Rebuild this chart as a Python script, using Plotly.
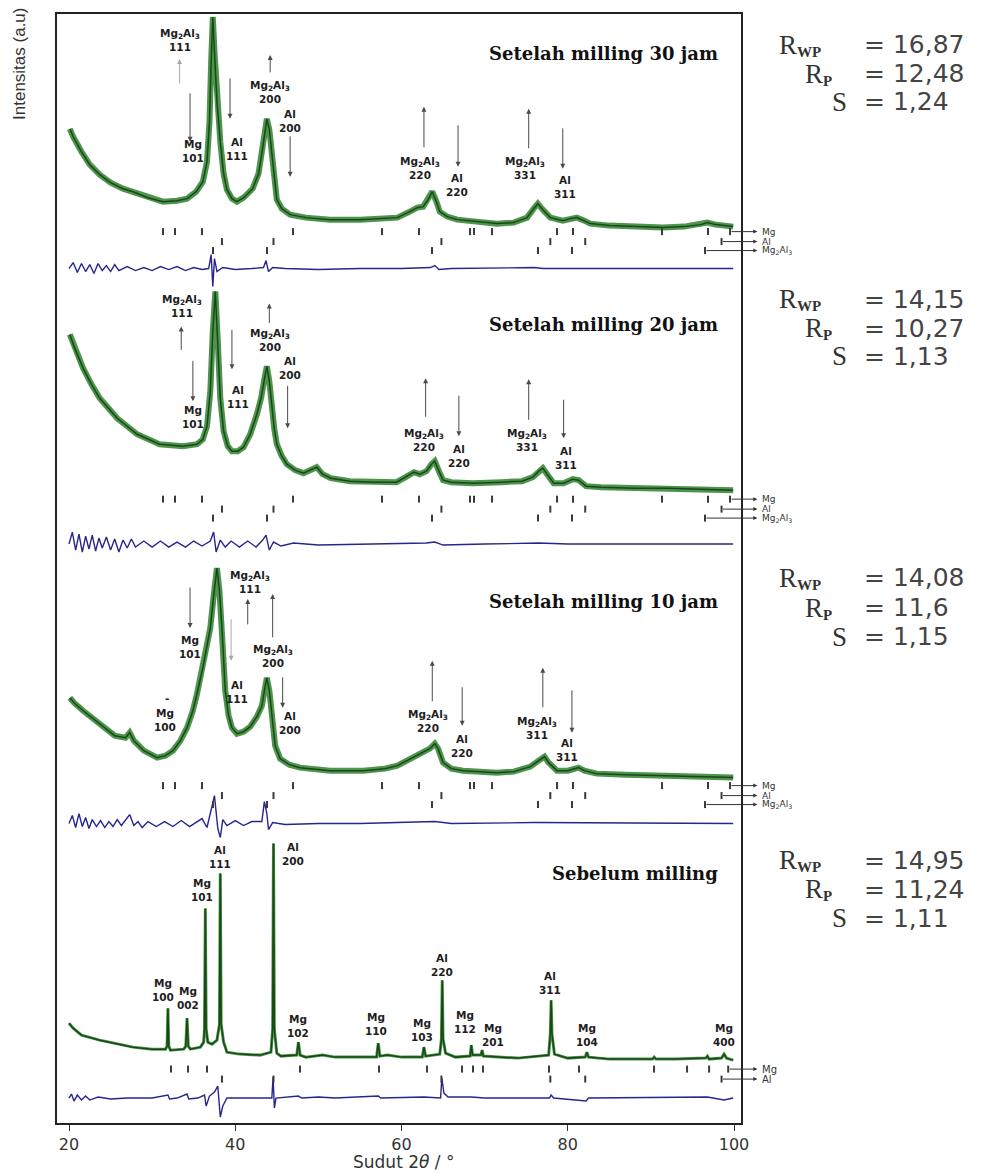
import plotly.graph_objects as go

# ---------------- observed / fitted patterns (2-theta in degrees, intensity in a.u.) ----------------
TTH_30 = [20.1, 20.5, 21.5, 22.5, 23.7, 25.0, 26.5, 27.7, 29.5, 31.3, 33.0, 34.2, 35.3, 36.1, 36.6,
          36.9, 37.1, 37.3, 37.5, 37.8, 38.2, 38.6, 39.0, 39.6, 40.2, 41.0, 42.1, 42.8, 43.2, 43.6,
          43.8, 44.1, 44.4, 44.7, 45.0, 45.6, 46.6, 48.5, 51.4, 55.0, 58.0, 59.5, 61.0, 61.9, 62.6,
          63.2, 63.7, 64.2, 64.6, 65.5, 66.7, 69.0, 71.5, 73.5, 75.1, 75.9, 76.4, 77.0, 77.9, 79.4,
          80.3, 81.1, 82.0, 82.7, 85.0, 87.5, 91.5, 94.0, 96.0, 96.8, 97.8, 99.9]
INT_30 = [103, 95, 80, 67, 57, 49, 43, 40, 34, 30, 31, 33, 40, 50, 70,
          110, 170, 215, 180, 130, 90, 58, 42, 33, 30, 34, 43, 58, 78, 105,
          113, 102, 80, 52, 32, 23, 17, 14, 12, 12, 13, 14, 20, 24, 25,
          32, 40, 30, 20, 15, 12, 10, 8, 9, 14, 23, 28, 22, 14, 11,
          13, 14, 11, 8, 6, 5, 4, 5, 7, 9, 7, 5]

TTH_20 = [20.1, 20.6, 21.7, 22.7, 23.7, 25.8, 28.2, 30.9, 33.7, 35.4, 36.1, 36.6, 37.0, 37.3, 37.6,
          37.9, 38.2, 38.6, 39.1, 39.6, 40.3, 41.0, 41.8, 42.6, 43.1, 43.5, 43.8, 44.1, 44.4, 44.7,
          45.0, 45.6, 46.2, 47.2, 48.2, 49.2, 49.8, 50.5, 51.5, 53.8, 56.5, 59.4, 60.5, 61.5, 62.2,
          63.0, 63.6, 64.0, 64.5, 65.0, 66.0, 68.5, 72.0, 74.5, 75.8, 76.5, 77.0, 77.6, 78.3, 79.5,
          80.6, 81.3, 82.2, 84.0, 88.0, 92.0, 96.0, 99.9]
INT_20 = [165, 153, 131, 115, 101, 81, 65, 55, 53, 55, 60, 73, 108, 168, 208,
          158, 101, 68, 53, 48, 48, 52, 65, 85, 101, 120, 133, 118, 91, 70,
          55, 43, 35, 29, 26, 30, 32, 25, 21, 18, 17, 17, 22, 27, 25,
          28, 35, 38, 28, 19, 17, 16, 17, 18, 22, 28, 31, 24, 16, 16,
          20, 19, 13, 12, 11, 11, 10, 9]

TTH_10 = [20.1, 20.6, 21.7, 23.7, 25.5, 26.8, 27.3, 27.8, 29.0, 30.6, 31.6, 32.5, 33.4, 34.2, 34.9,
          35.4, 36.1, 36.6, 37.0, 37.4, 37.8, 38.1, 38.4, 38.8, 39.2, 39.6, 40.2, 41.0, 41.8, 42.6,
          43.2, 43.6, 43.8, 44.1, 44.4, 44.8, 45.4, 46.5, 47.8, 51.4, 55.4, 58.0, 59.5, 61.4, 62.5,
          63.4, 64.0, 64.4, 65.0, 66.0, 67.4, 71.5, 73.5, 75.5, 76.5, 77.2, 77.7, 78.7, 80.0, 81.3,
          82.0, 83.5, 87.0, 91.5, 96.0, 99.9]
INT_10 = [88, 83, 75, 62, 50, 48, 53, 45, 35, 28, 30, 35, 45, 58, 75,
          92, 118, 140, 158, 190, 218, 195, 158, 95, 70, 58, 52, 54, 59, 69,
          80, 100, 108, 95, 73, 40, 27, 21, 18, 15, 15, 17, 20, 28, 33,
          37, 42, 37, 23, 17, 15, 13, 14, 19, 25, 29, 23, 15, 15, 18,
          15, 12, 11, 10, 9, 8]

TTH_0 = [20.0, 20.5, 21.5, 23.7, 27.7, 30.0, 31.6, 31.8, 31.9, 32.0, 32.2, 33.8, 34.05, 34.2, 34.35,
         34.6, 35.8, 36.2, 36.3, 36.4, 36.5, 36.7, 37.2, 37.8, 38.1, 38.2, 38.3, 38.6, 39.0, 40.5,
         43.0, 44.3, 44.5, 44.6, 44.7, 45.0, 45.5, 47.4, 47.6, 47.8, 48.5, 50.5, 52.0, 57.0, 57.2,
         57.4, 58.3, 60.0, 62.5, 62.7, 62.9, 64.6, 64.8, 64.9, 65.0, 65.3, 66.5, 68.25, 68.4, 68.55,
         69.55, 69.7, 69.85, 72.0, 74.0, 77.7, 77.9, 78.0, 78.1, 78.4, 80.0, 82.1, 82.3, 82.5, 85.0,
         90.2, 90.4, 90.6, 93.0, 96.6, 96.8, 97.0, 98.5, 98.8, 99.1, 99.9]
INT_0 = [46, 41, 34, 29, 22, 20, 20, 23, 61, 23, 19, 20, 23, 51, 23,
         20, 22, 27, 40, 161, 40, 27, 25, 29, 45, 196, 45, 27, 17, 15,
         14, 17, 40, 226, 40, 16, 13, 14, 27, 14, 12, 14, 12, 12, 26,
         13, 14, 12, 12, 22, 13, 15, 30, 89, 30, 16, 12, 13, 24, 14,
         14, 19, 13, 12, 11, 14, 35, 69, 35, 15, 11, 12, 17, 12, 10,
         10, 12, 10, 10, 11, 13, 10, 11, 15, 11, 9]

# ---------------- difference curves (observed - calculated) ----------------
DTH_30 = [20.0, 20.5, 21.0, 21.5, 22.0, 22.5, 23.0, 23.5, 24.0, 24.5, 25.0, 25.5, 26.0, 27.0, 28.0,
          29.0, 30.0, 31.0, 32.0, 33.0, 34.0, 35.0, 36.0, 36.8, 37.1, 37.3, 37.5, 37.8, 38.5, 40.0,
          42.0, 43.4, 43.7, 44.0, 44.5, 46.0, 50.0, 55.0, 60.0, 63.5, 64.0, 64.5, 66.0, 76.0, 77.0,
          85.0, 99.9]
D_30 = [0, 6, -4, 5, -3, 4, -5, 5, -2, 3, -3, 4, -2, 2, -2,
        1, -2, 2, -1, 2, -2, 1, -1, 0, 14, -18, 10, -3, 1, -1,
        0, 1, 8, -3, 1, 0, -1, 0, 0, 1, 3, -1, 0, 1, 0,
        0, 0]

DTH_20 = [20.0, 20.4, 20.8, 21.2, 21.6, 22.0, 22.4, 22.8, 23.2, 23.6, 24.0, 24.5, 25.0, 25.5, 26.0,
          26.5, 27.0, 27.5, 28.0, 29.0, 30.0, 31.0, 32.0, 33.0, 34.0, 35.0, 36.0, 37.0, 37.4, 37.7,
          38.2, 38.8, 39.5, 40.5, 41.5, 42.5, 43.3, 43.7, 44.1, 44.6, 45.5, 47.0, 50.0, 55.0, 63.0,
          64.0, 65.0, 70.0, 76.5, 80.0, 99.9]
D_20 = [0, 12, -6, 10, -8, 8, -5, 9, -7, 6, -4, 7, -6, 5, -8,
        4, -4, 5, -3, 3, -3, 3, -3, 2, -3, 3, -2, 3, 12, -8,
        4, -3, 3, -3, 3, -3, 4, 9, -6, 2, -2, 1, -1, 0, 1,
        2, -1, 0, 1, 0, 0]

DTH_10 = [20.0, 20.4, 20.8, 21.2, 21.6, 22.0, 22.4, 22.8, 23.3, 23.8, 24.3, 24.8, 25.3, 25.8, 26.3,
          26.8, 27.3, 27.8, 28.3, 28.8, 29.5, 30.5, 31.5, 32.5, 33.5, 34.5, 35.5, 36.0, 36.6, 37.0,
          37.5, 37.9, 38.2, 38.5, 39.0, 40.0, 41.0, 42.0, 43.2, 43.5, 43.8, 44.0, 44.5, 46.0, 50.0,
          55.0, 62.0, 64.0, 66.0, 76.0, 99.9]
D_10 = [0, 8, -4, 10, -3, 6, -5, 4, -3, 3, -4, 2, -3, 4, -2,
        3, 9, -2, 2, -4, 2, -3, 2, -3, 3, -3, 2, 5, -4, 10,
        28, -5, -14, 4, -2, 3, -2, 2, 2, 22, 10, -6, 1, -1, 0,
        0, 1, 2, 0, 1, 0]

DTH_0 = [20.0, 20.3, 20.6, 21.0, 21.5, 22.0, 22.5, 23.5, 25.0, 27.0, 30.0, 31.9, 32.1, 33.0, 34.2,
         34.4, 35.5, 36.3, 36.5, 36.9, 37.5, 37.9, 38.2, 38.5, 39.0, 42.0, 44.4, 44.55, 44.7, 44.9,
         47.6, 48.0, 50.0, 52.0, 57.2, 57.5, 62.7, 64.7, 64.85, 65.1, 65.6, 68.4, 70.0, 77.8, 78.0,
         78.3, 82.2, 82.5, 96.8, 98.8, 99.9]
D_0 = [0, 4, -3, 3, -2, 2, -2, 1, -1, 0, 0, 3, -1, 0, 4,
       -1, 0, 3, -8, 2, 6, 12, -19, -8, 0, 0, 0, 21, -10, 0,
       2, 0, 1, 0, 2, 0, 1, 0, 20, 5, 1, 1, 0, 0, 3,
       0, -3, 0, 1, -2, 0]

# ---------------- Bragg reflection positions (2-theta) ----------------
MG_TICKS_MILLED = [31.31, 32.75, 36.0, 46.95, 57.65, 62.1, 68.24, 68.72, 70.89, 78.71, 80.63, 91.34, 96.87, 99.52]
MG_TICKS_BEFORE = [32.27, 34.32, 36.6, 47.79, 57.29, 63.07, 67.28, 68.6, 69.8, 77.74, 81.35, 90.38, 94.35, 97.0, 99.3]
AL_TICKS = [38.4, 44.6, 64.8, 77.9, 82.1, 98.5]
MG2AL3_TICKS = [37.32, 43.82, 63.67, 76.42, 80.51, 96.51]

# ---------------- refinement figures of merit ----------------
TITLES = ["Setelah milling 30 jam", "Setelah milling 20 jam", "Setelah milling 10 jam", "Sebelum milling"]
R_WP = ["16,87", "14,15", "14,08", "14,95"]
R_P = ["12,48", "10,27", "11,6", "11,24"]
S_VAL = ["1,24", "1,13", "1,15", "1,11"]

M2A3 = "Mg<sub>2</sub>Al<sub>3</sub>"

# peak labels per pattern: (2-theta, height above pattern zero, text)
PEAK_LABELS = [
    [(33.35, 192, M2A3 + "<br>111"), (34.9, 81, "Mg<br>101"), (40.2, 83, "Al<br>111"),
     (44.2, 140, M2A3 + "<br>200"), (46.6, 111, "Al<br>200"), (62.2, 64, M2A3 + "<br>220"),
     (66.7, 47, "Al<br>220"), (74.9, 64, M2A3 + "<br>331"), (79.7, 45, "Al<br>311")],
    [(33.6, 193, M2A3 + "<br>111"), (34.9, 82, "Mg<br>101"), (40.3, 102, "Al<br>111"),
     (44.2, 159, M2A3 + "<br>200"), (46.6, 131, "Al<br>200"), (62.7, 59, M2A3 + "<br>220"),
     (66.9, 43, "Al<br>220"), (75.1, 59, M2A3 + "<br>331"), (79.8, 41, "Al<br>311")],
    [(34.56, 139, "Mg<br>101"), (41.8, 204, M2A3 + "<br>111"), (44.5, 130, M2A3 + "<br>200"),
     (40.2, 94, "Al<br>111"), (46.6, 63, "Al<br>200"), (31.55, 66, "Mg<br>100"), (31.8, 88, "-"),
     (63.2, 65, M2A3 + "<br>220"), (67.3, 40, "Al<br>220"), (76.3, 58, M2A3 + "<br>311"),
     (79.9, 36, "Al<br>311")],
    [(31.3, 79, "Mg<br>100"), (34.3, 71, "Mg<br>002"), (36.0, 179, "Mg<br>101"), (38.2, 212, "Al<br>111"),
     (46.95, 215, "Al<br>200"), (47.55, 43, "Mg<br>102"), (56.9, 45, "Mg<br>110"), (62.5, 39, "Mg<br>103"),
     (64.9, 104, "Al<br>220"), (67.6, 47, "Mg<br>112"), (71.0, 34, "Mg<br>201"), (77.9, 86, "Al<br>311"),
     (82.3, 34, "Mg<br>104"), (98.8, 34, "Mg<br>400")],
]

# peak arrows per pattern: (2-theta, tail height, head height, faint)
PEAK_ARROWS = [
    [(33.3, 147, 173, True), (34.56, 140, 90, False), (39.37, 155, 113, False), (44.2, 158, 177, False),
     (46.6, 97, 55, False), (62.7, 83, 125, False), (66.8, 108, 65, False), (75.3, 82, 123, False),
     (79.4, 105, 63, False)],
    [(33.5, 148, 173, False), (34.9, 140, 98, False), (39.6, 171, 130, False), (44.1, 175, 196, False),
     (46.3, 115, 71, False), (62.9, 81, 121, False), (66.9, 105, 63, False), (75.3, 78, 120, False),
     (79.5, 101, 61, False)],
    [(34.56, 200, 158, False), (41.5, 160, 187, False), (44.5, 147, 192, False), (39.5, 168, 125, True),
     (45.7, 110, 78, False), (63.7, 83, 125, False), (67.3, 100, 60, False), (77.0, 77, 118, False),
     (80.5, 97, 53, False)],
    [],
]

# ---------------- stacking / layout constants ----------------
OFFSETS = [893, 625, 338, 54]          # vertical shift of each pattern
DIFF_LEVEL = [-37, -45, -38, -29]      # level of each difference curve below its pattern
ROW_LEVEL = {"Mg": 0, "Al": -10, "Mg2Al3": -19}
TITLE_LEVEL = [178, 175, 184, 196]
R_LEVELS = [(187, 158, 130), (200, 171, 143), (208, 178, 149), (209, 180, 151)]
PHASE_NAME_X = (760 - 57) / 684        # paper position of the phase names right of the frame

patterns = [(TTH_30, INT_30), (TTH_20, INT_20), (TTH_10, INT_10), (TTH_0, INT_0)]
diffs = [(DTH_30, D_30), (DTH_20, D_20), (DTH_10, D_10), (DTH_0, D_0)]
phase_rows = [
    [("Mg", MG_TICKS_MILLED), ("Al", AL_TICKS), ("Mg2Al3", MG2AL3_TICKS)],
    [("Mg", MG_TICKS_MILLED), ("Al", AL_TICKS), ("Mg2Al3", MG2AL3_TICKS)],
    [("Mg", MG_TICKS_MILLED), ("Al", AL_TICKS), ("Mg2Al3", MG2AL3_TICKS)],
    [("Mg", MG_TICKS_BEFORE), ("Al", AL_TICKS)],
]
ROW_TEXT = {"Mg": "Mg", "Al": "Al", "Mg2Al3": M2A3}

fig = go.Figure()


def ya(p, v):
    return OFFSETS[p] + v


for p, (tth, inten) in enumerate(patterns):
    y = [ya(p, v) for v in inten]
    band = 3 if p == 3 else 6
    # observed points (wide band) and fitted profile
    fig.add_trace(go.Scatter(x=tth, y=y, mode="lines", hoverinfo="skip",
                             line=dict(color="rgba(48,128,48,0.85)", width=band)))
    fig.add_trace(go.Scatter(x=tth, y=y, mode="lines",
                             line=dict(color="#154a15", width=1.5)))

    dx, dv = diffs[p]
    fig.add_trace(go.Scatter(x=dx, y=[ya(p, DIFF_LEVEL[p] + v) for v in dv], mode="lines",
                             line=dict(color="#26268c", width=1.4)))

    for name, ticks in phase_rows[p]:
        lvl = ROW_LEVEL[name]
        fig.add_trace(go.Scatter(x=ticks, y=[ya(p, lvl)] * len(ticks), mode="markers",
                                 marker=dict(symbol="line-ns", size=5,
                                             line=dict(color="#3a3a3a", width=2))))
        # arrow leading to the phase name beside the frame
        fig.add_annotation(x=102.8, y=ya(p, lvl), ax=ticks[-1], ay=ya(p, lvl),
                           xref="x", yref="y", axref="x", ayref="y", text="",
                           showarrow=True, arrowhead=2, arrowsize=0.8, arrowwidth=1,
                           arrowcolor="#333")
        fig.add_annotation(x=PHASE_NAME_X, y=ya(p, lvl), xref="paper", yref="y", xanchor="left",
                           yanchor="middle", text=ROW_TEXT[name], showarrow=False,
                           font=dict(family="DejaVu Sans", size=10 if p == 3 else 9, color="#333"))

    for (x, t, h, faint) in PEAK_ARROWS[p]:
        fig.add_annotation(x=x, y=ya(p, h), ax=x, ay=ya(p, t), xref="x", yref="y",
                           axref="x", ayref="y", text="", showarrow=True, arrowhead=2,
                           arrowsize=1, arrowwidth=1,
                           arrowcolor="#a8a8a8" if faint else "#4a4a4a")

    for (x, h, txt) in PEAK_LABELS[p]:
        fig.add_annotation(x=x, y=ya(p, h), xref="x", yref="y", text="<b>" + txt + "</b>",
                           showarrow=False, xanchor="center", yanchor="middle",
                           font=dict(family="DejaVu Sans", size=10.5, color="#1e1e1e"))

    fig.add_annotation(x=98.3, y=ya(p, TITLE_LEVEL[p]), xref="x", yref="y", xanchor="right",
                       yanchor="middle", text="<b>" + TITLES[p] + "</b>", showarrow=False,
                       font=dict(family="DejaVu Serif", size=18, color="#111"))

    # agreement indices: serif symbol, bold subscript, then "= value"
    l1, l2, l3 = R_LEVELS[p]
    symbols = [(1.0526, l1, "R", 1.0789, "WP"), (1.0906, l2, "R", 1.1170, "P"),
               (1.1301, l3, "S", None, None)]
    for (xp, lv, sym, xs, sub) in symbols:
        fig.add_annotation(x=xp, y=ya(p, lv), xref="paper", yref="y", xanchor="left",
                           yanchor="middle", text=sym, showarrow=False,
                           font=dict(family="Liberation Serif", size=27, color="#333"))
        if sub:
            fig.add_annotation(x=xs, y=ya(p, lv - 7), xref="paper", yref="y", xanchor="left",
                               yanchor="middle", text="<b>" + sub + "</b>", showarrow=False,
                               font=dict(family="Liberation Serif", size=15, color="#333"))
    for (lv, val) in [(l1, R_WP[p]), (l2, R_P[p]), (l3, S_VAL[p])]:
        fig.add_annotation(x=1.1769, y=ya(p, lv), xref="paper", yref="y", xanchor="left",
                           yanchor="middle", text="= " + val, showarrow=False,
                           font=dict(family="DejaVu Sans", size=25, color="#444"))

# axis titles
fig.add_annotation(x=-0.054, y=0.955, xref="paper", yref="paper", text="Intensitas (a.u)",
                   textangle=-90, showarrow=False, xanchor="center", yanchor="middle",
                   font=dict(family="Liberation Sans", size=17, color="#333"))
fig.add_annotation(x=(403 - 57) / 684, y=-0.0351, xref="paper", yref="paper",
                   text="Sudut 2<i>θ</i> / °", showarrow=False, xanchor="center", yanchor="middle",
                   font=dict(family="DejaVu Sans", size=17, color="#333"))

fig.update_layout(width=984, height=1173, margin=dict(l=57, r=243, t=12, b=50),
                  plot_bgcolor="white", paper_bgcolor="white", showlegend=False)
fig.update_xaxes(range=[18.556, 100.84], tickvals=[20, 40, 60, 80, 100], ticks="outside",
                 ticklen=6, tickwidth=1.2, tickcolor="#333", showline=True, linecolor="#222",
                 linewidth=1.5, mirror=True, showgrid=False, zeroline=False,
                 tickfont=dict(family="DejaVu Sans", size=16, color="#333"))
fig.update_yaxes(range=[0, 1111], showticklabels=False, ticks="", showline=True,
                 linecolor="#222", linewidth=1.5, mirror=True, showgrid=False, zeroline=False)

fig.write_html("out.html")
